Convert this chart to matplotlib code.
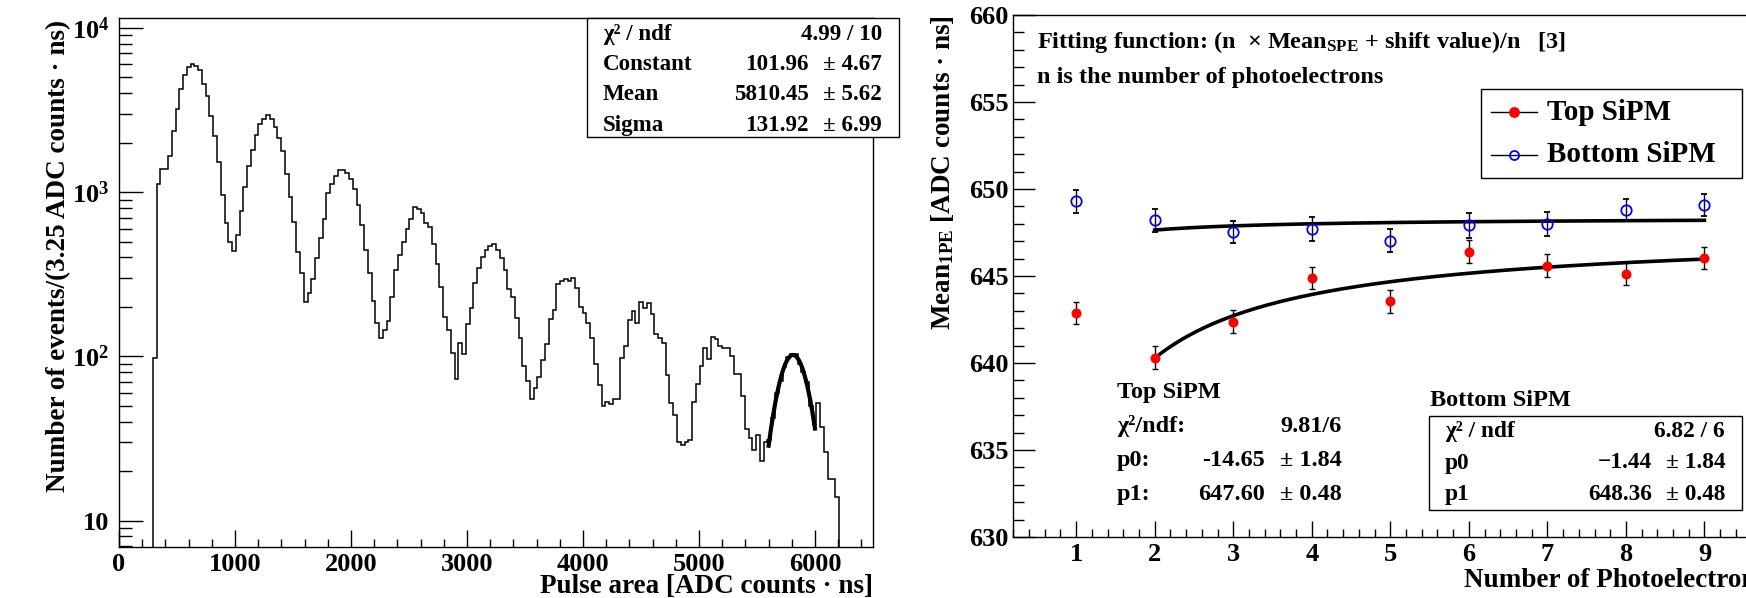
import numpy as np
import matplotlib
matplotlib.use("Agg")
import matplotlib.pyplot as plt
from matplotlib.patches import Rectangle
from matplotlib.lines import Line2D
from matplotlib.ticker import MultipleLocator, LogLocator, FuncFormatter, NullFormatter

plt.rcParams['font.family'] = ['Liberation Serif', 'DejaVu Serif']
plt.rcParams['font.weight'] = 'bold'
plt.rcParams['mathtext.fontset'] = 'custom'
plt.rcParams['mathtext.rm'] = 'Liberation Serif:bold'
plt.rcParams['mathtext.it'] = 'Liberation Serif:bold'
plt.rcParams['mathtext.bf'] = 'Liberation Serif:bold'
plt.rcParams['mathtext.default'] = 'rm'

W, H = 1746, 598

# --- pulse-area spectrum (32.5 ADC counts*ns per bin, first filled bin at 292.5)
bin_width = 32.5
first_edge = 292.5
counts = [
    98, 1125, 1387, 1380, 1655, 2350, 3215, 4254, 5155, 5765, 6040,
    5850, 5525, 4560, 3840, 2915, 2183, 1531, 964, 645, 499,
    438, 545, 766, 1072, 1438, 1810, 2244, 2583, 2795, 2943,
    2808, 2500, 2143, 1778, 1283, 934, 657, 431, 323, 215,
    244, 294, 395, 527, 682, 982, 1129, 1251, 1361, 1361,
    1300, 1195, 1048, 837, 627, 446, 323, 216, 160, 130,
    144, 164, 231, 334, 414, 499, 593, 682, 811, 793,
    742, 645, 615, 481, 366, 264, 173, 145, 105, 73,
    121, 104, 158, 198, 278, 347, 404, 442, 469, 481,
    444, 398, 338, 256, 230, 172, 129, 87, 71, 55,
    64, 75, 95, 119, 168, 191, 277, 287, 294, 287,
    298, 262, 200, 184, 160, 129, 90, 67, 50, 53,
    51, 55, 55, 98, 116, 166, 189, 159, 214, 196,
    212, 182, 136, 130, 121, 77, 52, 44, 30, 29,
    30, 31, 53, 68, 87, 113, 96, 132, 127, 116,
    113, 112, 100, 78, 78, 57, 36, 32, 27, 33,
    23, 30, 31, 42, 60, 71, 86, 99, 104, 104,
    90, 80, 70, 50, 38, 52, 37, 26, 18, 18, 14,
]

# gaussian fit on the 9 p.e. peak
gaus_const, gaus_mean, gaus_sigma = 101.96, 5810.45, 131.92
gaus_range = (5600, 6000)
gaus_stats = [("χ² / ndf", "", "4.99 / 10"),
              ("Constant", "101.96", "± 4.67"),
              ("Mean", "5810.45", "± 5.62"),
              ("Sigma", "131.92", "± 6.99")]

# --- mean single-p.e. charge vs number of photoelectrons
n_pe = [1, 2, 3, 4, 5, 6, 7, 8, 9]
top_mean = [642.89, 640.30, 642.37, 644.89, 643.55, 646.39, 645.60, 645.14, 646.02]
top_err = [0.64, 0.67, 0.66, 0.65, 0.67, 0.67, 0.65, 0.64, 0.64]
bottom_mean = [649.29, 648.20, 647.51, 647.71, 647.03, 647.91, 647.99, 648.79, 649.08]
bottom_err = [0.65, 0.67, 0.64, 0.67, 0.65, 0.72, 0.67, 0.65, 0.65]

top_p0, top_p1 = -14.65, 647.60
bottom_p0, bottom_p1 = -1.44, 648.36
fit_from, fit_to = 2, 9


def fx(px):
    return px / W


def fy(py):
    return 1 - py / H


fig = plt.figure(figsize=(W / 100, H / 100), dpi=100)

# ---------------- left: spectrum ----------------
ax1 = fig.add_axes([fx(119), fy(547), (873 - 119) / W, (547 - 18) / H])
edges = first_edge + bin_width * np.arange(len(counts) + 1)
ax1.stairs(counts, edges, baseline=1, color='black', lw=1.1)

xg = np.linspace(gaus_range[0], gaus_range[1], 200)
ax1.plot(xg, gaus_const * np.exp(-0.5 * ((xg - gaus_mean) / gaus_sigma) ** 2),
         color='black', lw=3.0)

ax1.set_xlim(0, 6500)
ax1.set_yscale('log')
ax1.set_ylim(6.9, 11500)
ax1.xaxis.set_major_locator(MultipleLocator(1000))
ax1.xaxis.set_minor_locator(MultipleLocator(200))
ax1.yaxis.set_major_locator(LogLocator(base=10))
ax1.yaxis.set_minor_locator(LogLocator(base=10, subs=np.arange(2, 10)))
ax1.yaxis.set_minor_formatter(NullFormatter())


def log_label(v, pos):
    e = int(round(np.log10(v)))
    return "10" if e == 1 else r"$10^{%d}$" % e


ax1.yaxis.set_major_formatter(FuncFormatter(log_label))
ax1.tick_params(axis='x', which='major', direction='in', length=12, width=1,
                labelsize=19, pad=4)
ax1.tick_params(axis='x', which='minor', direction='in', length=6, width=1)
ax1.tick_params(axis='y', which='major', direction='in', length=17, width=1,
                labelsize=19, pad=7)
ax1.tick_params(axis='y', which='minor', direction='in', length=9, width=1)
for s in ax1.spines.values():
    s.set_linewidth(1.0)

fig.text(fx(873), fy(593), "Pulse area [ADC counts · ns]", ha='right',
         va='baseline', fontsize=19.5)
fig.text(fx(65), fy(20), "Number of events/(3.25 ADC counts · ns)",
         rotation=90, rotation_mode='anchor', ha='right', va='baseline',
         fontsize=19.5)

# stats box of the gaussian fit
fig.add_artist(Rectangle((fx(587), fy(137)), (899 - 587) / W, (137 - 18) / H,
                         transform=fig.transFigure, fill=True, fc='white',
                         ec='black', lw=1.0, zorder=5))
for i, (name, val, err) in enumerate(gaus_stats):
    yb = fy(40 + 30.2 * i)
    fig.text(fx(603), yb, name, ha='left', va='baseline', fontsize=16.6, zorder=6)
    if val:
        fig.text(fx(809), yb, val, ha='right', va='baseline', fontsize=16.6, zorder=6)
    fig.text(fx(882), yb, err, ha='right', va='baseline', fontsize=16.6, zorder=6)

# ---------------- right: Mean_1PE vs n ----------------
ax2 = fig.add_axes([fx(1013.3), fy(537), 754 / W, (537 - 15) / H])
nn = np.linspace(fit_from, fit_to, 200)
ax2.plot(nn, top_p1 + top_p0 / nn, color='black', lw=2.6, zorder=2)
ax2.plot(nn, bottom_p1 + bottom_p0 / nn, color='black', lw=2.6, zorder=2)
ax2.errorbar(n_pe, top_mean, yerr=top_err, fmt='o', ms=6.2, mfc='red', mec='red',
             ecolor='black', elinewidth=1, capsize=2.5, capthick=1, zorder=3)
ax2.errorbar(n_pe, bottom_mean, yerr=bottom_err, fmt='o', ms=7.5, mfc='none',
             mec='blue', mew=1.3, ecolor='black', elinewidth=1, capsize=2.5,
             capthick=1, zorder=3)

ax2.set_xlim(0.2, 9.8)
ax2.set_ylim(630, 660)
ax2.xaxis.set_major_locator(MultipleLocator(1))
ax2.xaxis.set_minor_locator(MultipleLocator(0.2))
ax2.yaxis.set_major_locator(MultipleLocator(5))
ax2.yaxis.set_minor_locator(MultipleLocator(1))
ax2.tick_params(axis='x', which='major', direction='in', length=11.5, width=1,
                labelsize=19, pad=4)
ax2.tick_params(axis='x', which='minor', direction='in', length=6, width=1)
ax2.tick_params(axis='y', which='major', direction='in', length=16, width=1,
                labelsize=19, pad=3.5)
ax2.tick_params(axis='y', which='minor', direction='in', length=7.7, width=1)
for s in ax2.spines.values():
    s.set_linewidth(1.0)

fig.text(fx(1767), fy(587), "Number of Photoelectrons", ha='right',
         va='baseline', fontsize=19.5)
fig.text(fx(950), fy(15), r"Mean$_{\mathrm{1PE}}$ [ADC counts · ns]",
         rotation=90, rotation_mode='anchor', ha='right', va='baseline',
         fontsize=19.5)

fig.text(fx(1037), fy(48), r"Fitting function: (n  × Mean$_{\mathrm{SPE}}$ + shift value)/n   [3]",
         ha='left', va='baseline', fontsize=17.5)
fig.text(fx(1037), fy(83), "n is the number of photoelectrons",
         ha='left', va='baseline', fontsize=17.5)

# legend
fig.add_artist(Rectangle((fx(1481), fy(178)), (1742 - 1481) / W, (178 - 89) / H,
                         transform=fig.transFigure, fc='white', ec='black',
                         lw=1.0, zorder=5))
for yc, label, mfc, mec in [(112, "Top SiPM", 'red', 'red'),
                            (155, "Bottom SiPM", 'none', 'blue')]:
    fig.add_artist(Line2D([fx(1491), fx(1537)], [fy(yc), fy(yc)],
                          transform=fig.transFigure, color='black', lw=1.0,
                          zorder=6))
    fig.add_artist(Line2D([fx(1514)], [fy(yc)], transform=fig.transFigure,
                          marker='o', ms=6.5, mfc=mfc, mec=mec, mew=1.3,
                          ls='none', zorder=7))
    fig.text(fx(1547), fy(yc), label, ha='left', va='center', fontsize=21,
             zorder=7)

# top SiPM fit summary
fig.text(fx(1117), fy(398), "Top SiPM", ha='left', va='baseline', fontsize=17.5)
top_rows = [("χ²/ndf:", "", "9.81/6"),
            ("p0:", "%.2f" % top_p0, "± 1.84"),
            ("p1:", "%.2f" % top_p1, "± 0.48")]
for i, (name, val, err) in enumerate(top_rows):
    yb = fy(432 + 33.8 * i)
    fig.text(fx(1117), yb, name, ha='left', va='baseline', fontsize=17.5)
    if val:
        fig.text(fx(1265), yb, val, ha='right', va='baseline', fontsize=17.5)
    fig.text(fx(1342), yb, err, ha='right', va='baseline', fontsize=17.5)

# bottom SiPM fit summary box
fig.text(fx(1430), fy(406), "Bottom SiPM", ha='left', va='baseline', fontsize=17.5)
fig.add_artist(Rectangle((fx(1429), fy(510)), (1742 - 1429) / W, (510 - 416) / H,
                         transform=fig.transFigure, fc='white', ec='black',
                         lw=1.0, zorder=5))
bottom_rows = [("χ² / ndf", "", "6.82 / 6"),
               ("p0", "−%.2f" % abs(bottom_p0), "± 1.84"),
               ("p1", "%.2f" % bottom_p1, "± 0.48")]
for i, (name, val, err) in enumerate(bottom_rows):
    yb = fy(437 + 31.5 * i)
    fig.text(fx(1445), yb, name, ha='left', va='baseline', fontsize=16.8, zorder=6)
    if val:
        fig.text(fx(1652), yb, val, ha='right', va='baseline', fontsize=16.8, zorder=6)
    fig.text(fx(1725), yb, err, ha='right', va='baseline', fontsize=16.8, zorder=6)

fig.savefig("out.png", dpi=100)
